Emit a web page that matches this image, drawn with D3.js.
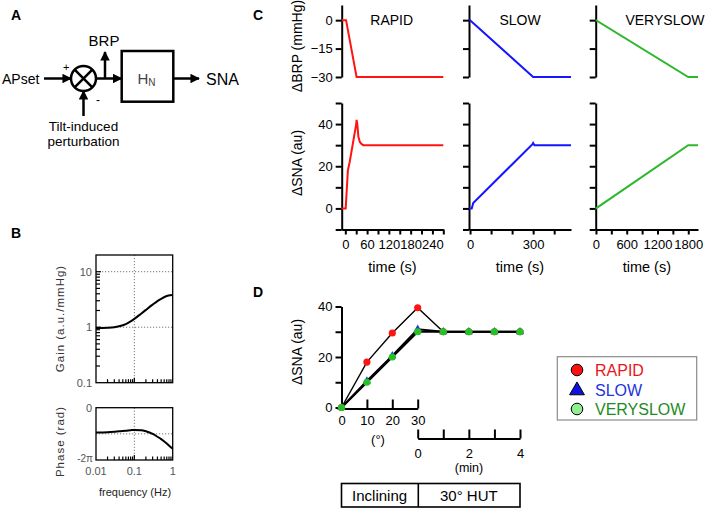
<!DOCTYPE html>
<html><head><meta charset="utf-8">
<script src="https://cdn.jsdelivr.net/npm/d3@7"></script>
<style>
body{margin:0;background:#fff}
svg{display:block}
</style>
</head><body>
<svg id="fig" width="708" height="511"></svg>
<script>
// ---------- DATA ----------
// Panel B: transfer function of neural arc
const bodeFreq    = [0.01, 0.02, 0.03, 0.04, 0.06, 0.08, 0.1, 0.15, 0.2, 0.3, 0.4, 0.5, 0.7, 0.85, 1];
const bodeGain    = [0.97, 0.98, 1.0, 1.04, 1.14, 1.27, 1.41, 1.75, 2.05, 2.55, 2.95, 3.25, 3.65, 3.78, 3.8];
const bodePhasePi = [-0.95, -0.94, -0.92, -0.9, -0.88, -0.86, -0.85, -0.86, -0.9, -1.0, -1.11, -1.2, -1.37, -1.48, -1.57];
const gainTickLabels  = ["0.1", "1", "10"];
const freqTickLabels  = ["0.01", "0.1", "1"];

// Panel C: simulated time courses
const rapidBrpT  = [-10, 2, 31, 270];
const rapidBrp   = [0, 0, -30, -30];
const rapidSnaT  = [-10, 1, 4, 7, 12, 17, 24, 30, 31, 33, 36, 40, 45, 50, 270];
const rapidSna   = [0, 0, 9, 18, 22, 27, 34, 40, 42, 40, 34, 31.5, 30.5, 30, 30];
const slowBrpT   = [-5, 0, 300, 480];
const slowBrp    = [0, 0, -30, -30];
const slowSnaT   = [-5, 8, 15, 297, 300, 306, 480];
const slowSna    = [0, 0, 2.5, 30.5, 31, 30, 30];
const vslowBrpT  = [-5, 0, 1800, 1990];
const vslowBrp   = [0, 0, -30, -30];
const vslowSnaT  = [-5, 0, 1800, 1990];
const vslowSna   = [0, 0, 30, 30];
const rapidTimeLabels = [0, 60, 120, 180, 240];
const slowTimeLabels  = [0, 300];
const vslowTimeLabels = [0, 600, 1200, 1800];
const brpTicks = [0, -15, -30];
const snaTicks = [50, 40, 30, 20, 10, 0, -10];

// Panel D: SNA during inclining and 30° HUT
const inclineDeg = [0, 10, 20, 30];
const hutMin     = [1, 2, 3, 4];
const rapidD     = [0, 18, 29.5, 39.5, 30, 30, 30, 30];
const slowD      = [0, 10.5, 20.5, 31, 30, 30, 30, 30];
const vslowD     = [0, 10, 20, 30, 30, 30, 30, 30];
const seriesNames = ["RAPID", "SLOW", "VERYSLOW"];

// ---------- DRAWING ----------
const FONT = 'Arial, "Liberation Sans", Helvetica, sans-serif';
const RED = "#ff1414", BLUE = "#1616ff", GREEN = "#2db82d";
const svg = d3.select("#fig");
svg.append("rect").attr("width",708).attr("height",511).attr("fill","#fff");

function text(x, y, s, o = {}) {
  const t = svg.append("text").attr("x", x).attr("y", y).text(s)
    .attr("font-family", FONT).attr("font-size", o.size || 13)
    .attr("fill", o.fill || "#000")
    .attr("text-anchor", o.anchor || "start");
  if (o.weight) t.attr("font-weight", o.weight);
  if (o.rotate) t.attr("transform", `rotate(-90,${x},${y})`);
  if (o.ls) t.attr("letter-spacing", o.ls);
  return t;
}

// panel letters
text(11, 19.5, "A", {size: 14, weight: "bold"});
text(11, 238, "B", {size: 14, weight: "bold"});
text(253, 19.5, "C", {size: 14, weight: "bold"});
text(253, 297, "D", {size: 14, weight: "bold"});

// ---------- PANEL A (block diagram) ----------
const defs = svg.append("defs");
defs.append("marker").attr("id","ah").attr("viewBox","0 0 10 10")
  .attr("refX",9).attr("refY",5).attr("markerWidth",3.8).attr("markerHeight",3.8)
  .attr("markerUnits","strokeWidth").attr("orient","auto")
  .append("path").attr("d","M0,0 L10,5 L0,10 z").attr("fill","#000");
const A = svg.append("g").attr("stroke","#000").attr("stroke-width",2.5).attr("fill","none");
const cx = 83.5, cy = 78.5, cr = 12.5;
A.append("line").attr("x1",44).attr("y1",cy).attr("x2",cx-cr).attr("y2",cy).attr("marker-end","url(#ah)");
A.append("circle").attr("cx",cx).attr("cy",cy).attr("r",cr);
const k = cr*0.707;
A.append("line").attr("x1",cx-k).attr("y1",cy-k).attr("x2",cx+k).attr("y2",cy+k);
A.append("line").attr("x1",cx-k).attr("y1",cy+k).attr("x2",cx+k).attr("y2",cy-k);
A.append("line").attr("x1",cx).attr("y1",116).attr("x2",cx).attr("y2",cy+cr).attr("marker-end","url(#ah)");
A.append("line").attr("x1",cx+cr).attr("y1",cy).attr("x2",121.5).attr("y2",cy).attr("marker-end","url(#ah)");
A.append("line").attr("x1",105).attr("y1",cy).attr("x2",105).attr("y2",52).attr("marker-end","url(#ah)");
A.append("rect").attr("x",121.7).attr("y",51).attr("width",51.6).attr("height",50.7);
A.append("line").attr("x1",173.3).attr("y1",cy).attr("x2",199).attr("y2",cy).attr("marker-end","url(#ah)");
text(2, 84, "APset", {size: 14});
text(63, 71, "+", {size: 11});
text(96, 104, "-", {size: 12});
text(104, 46, "BRP", {size: 15, anchor: "middle"});
const hn = text(137.5, 84, "H", {size: 15, fill: "#444"});
hn.append("tspan").attr("font-size", 10).attr("dy", 2).text("N");
text(206, 84.5, "SNA", {size: 16});
text(83.5, 131, "Tilt-induced", {size: 13.5, anchor: "middle"});
text(83.5, 146, "perturbation", {size: 13.5, anchor: "middle"});

// ---------- PANEL B (Bode plot) ----------
const xB = d3.scaleLog().domain([0.01, 1]).range([96, 172.7]);
const yG = d3.scaleLog().domain([0.1, 20]).range([382.7, 255]);
const yP = d3.scaleLinear().domain([-2, 0]).range([460, 407.7]);
const gridStyle = s => s.attr("stroke","#777").attr("stroke-width",1).attr("stroke-dasharray","1.2,1.8");
[1, 10].forEach(v => gridStyle(svg.append("line").attr("x1",xB(0.01)).attr("x2",xB(1)).attr("y1",yG(v)).attr("y2",yG(v))));
gridStyle(svg.append("line").attr("x1",xB(0.1)).attr("x2",xB(0.1)).attr("y1",yG(20)).attr("y2",yG(0.1)));
gridStyle(svg.append("line").attr("x1",xB(0.01)).attr("x2",xB(1)).attr("y1",yP(-1)).attr("y2",yP(-1)));
gridStyle(svg.append("line").attr("x1",xB(0.1)).attr("x2",xB(0.1)).attr("y1",yP(0)).attr("y2",yP(-2)));
const minorF = [0.02,0.03,0.04,0.05,0.06,0.07,0.08,0.09,0.2,0.3,0.4,0.5,0.6,0.7,0.8,0.9];
const minorG = [0.2,0.3,0.4,0.5,0.6,0.7,0.8,0.9,2,3,4,5,6,7,8,9];
const tk = svg.append("g").attr("stroke","#000").attr("stroke-width",1.2);
minorF.forEach(f => {
  tk.append("line").attr("x1",xB(f)).attr("x2",xB(f)).attr("y1",yG(0.1)).attr("y2",yG(0.1)-3.5);
  tk.append("line").attr("x1",xB(f)).attr("x2",xB(f)).attr("y1",yP(-2)).attr("y2",yP(-2)-3.5);
});
[0.1].forEach(f => {
  tk.append("line").attr("x1",xB(f)).attr("x2",xB(f)).attr("y1",yG(0.1)).attr("y2",yG(0.1)-5);
  tk.append("line").attr("x1",xB(f)).attr("x2",xB(f)).attr("y1",yP(-2)).attr("y2",yP(-2)-5);
});
minorG.forEach(g => tk.append("line").attr("x1",xB(0.01)).attr("x2",xB(0.01)+4).attr("y1",yG(g)).attr("y2",yG(g)));
[1,10].forEach(g => tk.append("line").attr("x1",xB(0.01)).attr("x2",xB(0.01)+5).attr("y1",yG(g)).attr("y2",yG(g)));
const gainLine = d3.line().x((d,i) => xB(bodeFreq[i])).y(d => yG(d)).curve(d3.curveMonotoneX);
svg.append("path").attr("d", gainLine(bodeGain)).attr("fill","none").attr("stroke","#000").attr("stroke-width",2);
const phaseLine = d3.line().x((d,i) => xB(bodeFreq[i])).y(d => yP(d)).curve(d3.curveMonotoneX);
svg.append("path").attr("d", phaseLine(bodePhasePi)).attr("fill","none").attr("stroke","#000").attr("stroke-width",2);
svg.append("rect").attr("x",xB(0.01)).attr("y",yG(20)).attr("width",xB(1)-xB(0.01)).attr("height",yG(0.1)-yG(20))
  .attr("fill","none").attr("stroke","#000").attr("stroke-width",1.3);
svg.append("rect").attr("x",xB(0.01)).attr("y",yP(0)).attr("width",xB(1)-xB(0.01)).attr("height",yP(-2)-yP(0))
  .attr("fill","none").attr("stroke","#000").attr("stroke-width",1.3);
[0.1, 1, 10].forEach((v,i) => text(92, yG(v)+4, gainTickLabels[i], {size: 11, fill: "#555", anchor: "end"}));
text(92, yP(0)+4, "0", {size: 11, fill: "#555", anchor: "end"});
text(93, yP(-2)+2, "-2π", {size: 10, fill: "#555", anchor: "end"});
[0.01, 0.1, 1].forEach((v,i) => text(xB(v), 475, freqTickLabels[i], {size: 11, fill: "#555", anchor: "middle"}));
text(64, 318.5, "Gain (a.u./mmHg)", {size: 11.5, fill: "#333", anchor: "middle", rotate: true, ls: 1});
text(64, 441.5, "Phase (rad)", {size: 11.5, fill: "#333", anchor: "middle", rotate: true, ls: 1});
text(135, 496, "frequency (Hz)", {size: 11, fill: "#222", anchor: "middle"});

// ---------- PANEL C (time courses) ----------
const yBRP = d3.scaleLinear().domain([-30, 8]).range([77, 5]);
const ySNA = d3.scaleLinear().domain([-10, 50]).range([229.5, 103]);
const minus = d => d < 0 ? "\u2212" + Math.abs(d) : String(d);
const cols = [
  {name: "RAPID", color: RED, x: d3.scaleLinear().domain([-10, 270]).range([341.7, 443.3]),
   ticks: d3.range(0, 271, 30), labels: rapidTimeLabels,
   bT: rapidBrpT, b: rapidBrp, sT: rapidSnaT, s: rapidSna, first: true},
  {name: "SLOW", color: BLUE, x: d3.scaleLinear().domain([-5, 480]).range([469, 571]),
   ticks: d3.range(0, 401, 100), labels: slowTimeLabels,
   bT: slowBrpT, b: slowBrp, sT: slowSnaT, s: slowSna},
  {name: "VERYSLOW", color: GREEN, x: d3.scaleLinear().domain([-5, 1990]).range([595.7, 698]),
   ticks: d3.range(0, 1801, 300), labels: vslowTimeLabels,
   bT: vslowBrpT, b: vslowBrp, sT: vslowSnaT, s: vslowSna}
];
function styleAxis(g, size) {
  g.attr("font-family", FONT).attr("font-size", size);
  g.selectAll("path,line").attr("stroke","#000").attr("stroke-width",2);
  g.selectAll("text").attr("fill","#000");
}
cols.forEach(c => {
  const x0 = c.x.range()[0];
  const ab = svg.append("g").attr("transform",`translate(${x0},0)`)
    .call(d3.axisLeft(yBRP).tickValues(brpTicks).tickSize(6).tickSizeOuter(0)
      .tickFormat(d => c.first ? minus(d) : ""));
  styleAxis(ab, 13);
  const as = svg.append("g").attr("transform",`translate(${x0},0)`)
    .call(d3.axisLeft(ySNA).tickValues(snaTicks).tickSize(6).tickSizeOuter(0)
      .tickFormat(d => (c.first && d % 20 === 0 && d >= 0 && d <= 40) ? d : ""));
  styleAxis(as, 13);
  const ax = svg.append("g").attr("transform",`translate(0,${ySNA(-10)})`)
    .call(d3.axisBottom(c.x).tickValues(c.ticks).tickSize(5).tickSizeOuter(0).tickPadding(5)
      .tickFormat(d => c.labels.includes(d) ? d : ""));
  styleAxis(ax, 13);
  const lb = d3.line().x((d,i) => c.x(c.bT[i])).y(d => yBRP(d));
  svg.append("path").attr("d", lb(c.b)).attr("fill","none").attr("stroke",c.color).attr("stroke-width",2);
  const ls = d3.line().x((d,i) => c.x(c.sT[i])).y(d => ySNA(d));
  svg.append("path").attr("d", ls(c.s)).attr("fill","none").attr("stroke",c.color).attr("stroke-width",2);
  const xm = (c.x.range()[0] + c.x.range()[1]) / 2;
  text(xm, 271.5, "time (s)", {size: 14.5, anchor: "middle"});
});
text(391.7, 25, "RAPID", {size: 14, anchor: "middle"});
text(520, 25, "SLOW", {size: 14, anchor: "middle"});
text(665, 25, "VERYSLOW", {size: 14, anchor: "middle"});
text(302, 46, "\u0394BRP (mmHg)", {size: 14, anchor: "middle", rotate: true});
text(302, 163, "\u0394SNA (au)", {size: 14, anchor: "middle", rotate: true});

// ---------- PANEL D ----------
const yD = d3.scaleLinear().domain([0, 40]).range([407.5, 306.5]);
const degX = d3.scaleLinear().domain([0, 30]).range([341.5, 417.7]);
const minX = d3.scaleLinear().domain([0, 4]).range([417.7, 520]);
const xPos = i => i < inclineDeg.length ? degX(inclineDeg[i]) : minX(hutMin[i - inclineDeg.length]);

const ayD = svg.append("g").attr("transform",`translate(${degX(0)},0)`)
  .call(d3.axisLeft(yD).tickValues([0,10,20,30,40]).tickSize(6).tickSizeOuter(0)
    .tickFormat(d => d % 20 === 0 ? d : ""));
styleAxis(ayD, 13);
const adD = svg.append("g").attr("transform",`translate(0,${yD(0)+1})`)
  .call(d3.axisBottom(degX).tickValues([0,10,20,30]).tickSize(-9).tickSizeOuter(0).tickPadding(7));
styleAxis(adD, 13);
const amD = svg.append("g").attr("transform",`translate(0,438.5)`)
  .call(d3.axisBottom(minX).tickValues([0,1,2,3,4]).tickSize(-9).tickSizeOuter(0).tickPadding(10)
    .tickFormat(d => d % 2 === 0 ? d : ""));
styleAxis(amD, 13);
text(378, 443.5, "(°)", {size: 13, anchor: "middle"});
text(469, 472, "(min)", {size: 12.5, anchor: "middle"});
text(302, 352, "\u0394SNA (au)", {size: 14, anchor: "middle", rotate: true});

const dLine = d3.line().x((d,i) => xPos(i)).y(d => yD(d));
svg.append("path").attr("d", dLine(rapidD)).attr("fill","none").attr("stroke","#000").attr("stroke-width",1.4);
svg.append("path").attr("d", dLine(slowD)).attr("fill","none").attr("stroke","#000").attr("stroke-width",2);
svg.append("path").attr("d", dLine(vslowD)).attr("fill","none").attr("stroke","#000").attr("stroke-width",2.2);
svg.selectAll(".mr").data(rapidD).enter().append("circle")
  .attr("cx",(d,i)=>xPos(i)).attr("cy",d=>yD(d)).attr("r",3.6).attr("fill",RED);
svg.selectAll(".ms").data(slowD).enter().append("path")
  .attr("d",(d,i)=>d3.symbol(d3.symbolTriangle, 30)()).attr("transform",(d,i)=>`translate(${xPos(i)},${yD(d)})`)
  .attr("fill","#2a3adf");
svg.selectAll(".mv").data(vslowD).enter().append("circle")
  .attr("cx",(d,i)=>xPos(i)).attr("cy",d=>yD(d)).attr("r",3.6).attr("fill","#22c322");

const tb = svg.append("g").attr("fill","none").attr("stroke","#000").attr("stroke-width",1.6);
tb.append("rect").attr("x",degX(0)).attr("y",483.5).attr("width",minX(4)-degX(0)).attr("height",23.5);
tb.append("line").attr("x1",degX(30)+0.6).attr("x2",degX(30)+0.6).attr("y1",483.5).attr("y2",507);
text((degX(0)+degX(30))/2, 500.5, "Inclining", {size: 15, anchor: "middle"});
text((minX(0)+minX(4))/2, 500.5, "30° HUT", {size: 15, anchor: "middle"});

svg.append("rect").attr("x",557.3).attr("y",356.7).attr("width",139.4).attr("height",63.3)
  .attr("fill","#fff").attr("stroke","#8a8a8a").attr("stroke-width",1.2);
const legFill = ["#ff1010", "#1010e0", "#90ee90"];
const legText = ["#e8161b", "#2233dd", "#1e8c1e"];
seriesNames.forEach((n,i) => {
  const y = 370 + i*19.5;
  if (i === 1) {
    svg.append("path").attr("d", d3.symbol(d3.symbolTriangle, 95)()).attr("transform",`translate(577,${y+1})`)
      .attr("fill",legFill[i]).attr("stroke","#000").attr("stroke-width",1);
  } else {
    svg.append("circle").attr("cx",577).attr("cy",y).attr("r",5.8)
      .attr("fill",legFill[i]).attr("stroke","#000").attr("stroke-width",1);
  }
  text(595, y + 6, n, {size: 16, fill: legText[i]});
});
</script>
</body></html>
